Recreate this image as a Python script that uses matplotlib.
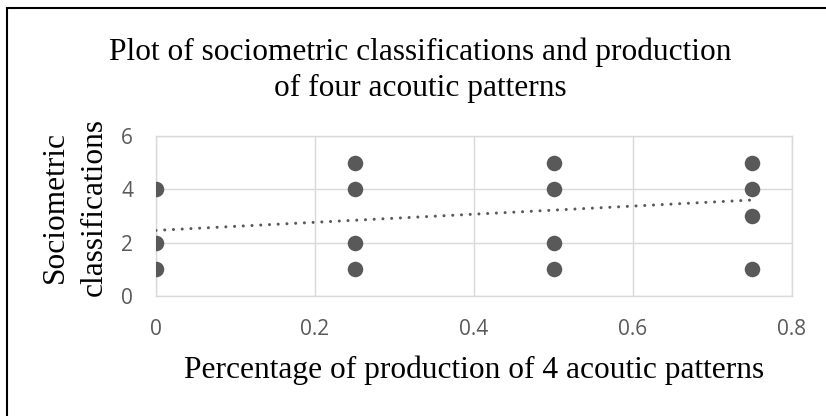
import matplotlib
matplotlib.use("Agg")
import matplotlib.pyplot as plt
from matplotlib.patches import Rectangle

# ---- data ----
x_vals = [0, 0, 0,
          0.25, 0.25, 0.25, 0.25,
          0.5, 0.5, 0.5, 0.5,
          0.75, 0.75, 0.75, 0.75]
y_vals = [4, 2, 1,
          5, 4, 2, 1,
          5, 4, 2, 1,
          5, 4, 3, 1]
trend_x = [0.0, 0.75]
trend_y = [2.46, 3.60]
x_ticks = [0, 0.2, 0.4, 0.6, 0.8]
x_tick_labels = ["0", "0.2", "0.4", "0.6", "0.8"]
y_ticks = [0, 2, 4, 6]
y_tick_labels = ["0", "2", "4", "6"]
title = "Plot of sociometric classifications and production\nof four acoutic patterns"
x_label = "Percentage of production of 4 acoutic patterns"
y_label = "Sociometric\nclassifications"

W, H = 826, 416
fig = plt.figure(figsize=(W / 100, H / 100), dpi=100)
fig.patch.set_facecolor("white")

serif = ["Liberation Serif", "DejaVu Serif"]
tickfont = ["Open Sans", "DejaVu Sans"]
grid_c = "#D9D9D9"
mark_c = "#595959"

ax = fig.add_axes([156 / W, 1 - 296 / H, 636 / W, 160 / H])
ax.set_xlim(0, 0.8)
ax.set_ylim(0, 6)
ax.set_xticks(x_ticks)
ax.set_xticklabels(x_tick_labels)
ax.set_yticks(y_ticks)
ax.set_yticklabels(y_tick_labels)
ax.grid(True, color=grid_c, linewidth=1.0)
ax.set_axisbelow(True)
for s in ax.spines.values():
    s.set_color(grid_c)
    s.set_linewidth(1.0)
ax.tick_params(length=0, pad=16.5, labelcolor=mark_c, labelsize=15)
for lab in ax.get_xticklabels() + ax.get_yticklabels():
    lab.set_family(tickfont)

ax.scatter(x_vals, y_vals, s=125, color=mark_c, zorder=3, linewidths=0)
ax.plot(trend_x, trend_y, color=mark_c, linewidth=2.2,
        linestyle=(0, (0.01, 2.85)), dash_capstyle="round", zorder=4)

fig.text(420 / W, 1 - 96 / H, title, ha="center", va="baseline",
         multialignment="center", fontsize=22.6, family=serif,
         linespacing=1.31, color="black")
fig.text(474 / W, 1 - 378 / H, x_label, ha="center", va="baseline",
         fontsize=22.6, family=serif, color="black")
fig.text(75 / W, 1 - 207 / H, y_label, ha="center", va="center",
         rotation=90, multialignment="center", fontsize=22.6,
         family=serif, linespacing=1.45, color="black")

border = Rectangle((6.8 / W, -0.05), 1.1, 1 - 7.8 / H + 0.05,
                   transform=fig.transFigure, fill=False,
                   edgecolor="black", linewidth=1.5, clip_on=False)
fig.add_artist(border)

fig.savefig("out.png", dpi=100, facecolor="white")
